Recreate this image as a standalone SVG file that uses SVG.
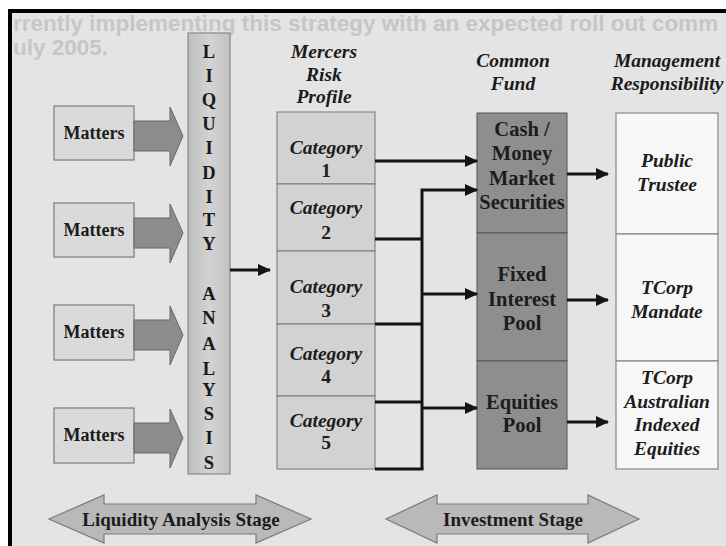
<svg xmlns="http://www.w3.org/2000/svg" width="726" height="546" viewBox="0 0 726 546">
  <style>
    .serif { font-family: "Liberation Serif", "Times New Roman", serif; font-weight: bold; }
    .ital { font-style: italic; }
    .hdr { font-size: 19.5px; fill: #1a1a1a; text-anchor: middle; }
    .bar { font-size: 18.5px; fill: #1a1a1a; text-anchor: middle; }
    .matter-box { fill: #dadada; stroke: #7c7c7c; stroke-width: 1.2; }
    .matter-txt { font-size: 18px; fill: #1c1c1c; text-anchor: middle; }
    .fat { fill: #8c8c8c; stroke: #666; stroke-width: 1; }
    .cat { fill: #d2d2d2; stroke: #777; stroke-width: 1; }
    .cat-txt { font-size: 19.5px; fill: #1c1c1c; text-anchor: middle; }
    .fund { fill: #8e8e8e; stroke: #555; stroke-width: 1; }
    .fund-txt { font-size: 20.5px; fill: #1c1c1c; text-anchor: middle; }
    .mgmt { fill: #f7f7f7; stroke: #888; stroke-width: 1.2; }
    .mgmt-txt { font-size: 19.5px; fill: #1c1c1c; text-anchor: middle; }
    .wire { fill: none; stroke: #141414; stroke-width: 3; }
    .stage { fill: #b9b9b9; stroke: #7a7a7a; stroke-width: 1.2; }
    .stage-txt { font-size: 19px; fill: #1c1c1c; text-anchor: middle; }
    .ghost { font-family: "Liberation Sans", Arial, sans-serif; font-weight: bold; font-size: 22.5px; fill: #c6c6c6; }
  </style>
  <defs>
    <marker id="head" markerUnits="userSpaceOnUse" markerWidth="13" markerHeight="12" refX="12" refY="6" orient="auto">
      <path d="M0,0 L13,6 L0,12 Z" fill="#141414"/>
    </marker>
    <linearGradient id="barFill" x1="0" y1="0" x2="1" y2="0">
      <stop offset="0" stop-color="#bdbdbd"/>
      <stop offset="0.5" stop-color="#d3d3d3"/>
      <stop offset="1" stop-color="#c2c2c2"/>
    </linearGradient>
  </defs>

  <!-- page -->
  <rect x="0" y="0" width="726" height="546" fill="#ffffff"/>
  <rect x="8" y="9" width="718" height="537" fill="#e4e4e4"/>

  <!-- faint running text behind the figure -->
  <text class="ghost" x="13" y="31">rrently implementing this strategy with an expected roll out comm</text>
  <text class="ghost" x="13" y="55">uly 2005.</text>

  <!-- frame -->
  <rect x="8" y="9" width="718" height="4" fill="#000"/>
  <rect x="8" y="9" width="4" height="537" fill="#000"/>

  <!-- column headings -->
  <g id="headings" class="serif ital">
    <text class="hdr" x="324" y="58">Mercers</text>
    <text class="hdr" x="324" y="81">Risk</text>
    <text class="hdr" x="324" y="103">Profile</text>
    <text class="hdr" x="513" y="67">Common</text>
    <text class="hdr" x="513" y="90">Fund</text>
    <text class="hdr" x="667" y="67">Management</text>
    <text class="hdr" x="667" y="90">Responsibility</text>
  </g>

  <!-- matters -->
  <g id="matters-1">
    <rect class="matter-box" x="54" y="106" width="80" height="54"/>
    <text class="serif matter-txt" x="94" y="139">Matters</text>
    <path class="fat" d="M134,121 L170,121 L170,107 L183,136 L170,166 L170,151 L134,151 Z"/>
  </g>
  <g id="matters-2">
    <rect class="matter-box" x="54" y="203" width="80" height="54"/>
    <text class="serif matter-txt" x="94" y="236">Matters</text>
    <path class="fat" d="M134,218 L170,218 L170,204 L183,233 L170,263 L170,248 L134,248 Z"/>
  </g>
  <g id="matters-3">
    <rect class="matter-box" x="54" y="305" width="80" height="55"/>
    <text class="serif matter-txt" x="94" y="338">Matters</text>
    <path class="fat" d="M134,320 L170,320 L170,306 L183,335 L170,365 L170,350 L134,350 Z"/>
  </g>
  <g id="matters-4">
    <rect class="matter-box" x="54" y="408" width="80" height="55"/>
    <text class="serif matter-txt" x="94" y="441">Matters</text>
    <path class="fat" d="M134,423 L170,423 L170,409 L183,438 L170,468 L170,453 L134,453 Z"/>
  </g>

  <!-- liquidity analysis bar -->
  <g id="liquidity-analysis" class="serif bar">
    <rect x="188" y="33" width="42" height="441" fill="url(#barFill)" stroke="#8a8a8a" stroke-width="1.2"/>
    <text x="209" y="58">L</text>
    <text x="209" y="82">I</text>
    <text x="209" y="106">Q</text>
    <text x="209" y="130">U</text>
    <text x="209" y="154">I</text>
    <text x="209" y="179">D</text>
    <text x="209" y="203">I</text>
    <text x="209" y="226">T</text>
    <text x="209" y="250">Y</text>
    <text x="209" y="300">A</text>
    <text x="209" y="324">N</text>
    <text x="209" y="350">A</text>
    <text x="209" y="375">L</text>
    <text x="209" y="396">Y</text>
    <text x="209" y="420">S</text>
    <text x="209" y="444">I</text>
    <text x="209" y="469">S</text>
  </g>

  <!-- risk categories -->
  <g id="category-1">
    <rect class="cat" x="277" y="112" width="98" height="72"/>
    <text class="serif ital cat-txt" x="326" y="154">Category</text>
    <text class="serif cat-txt" x="326" y="177">1</text>
  </g>
  <g id="category-2">
    <rect class="cat" x="277" y="184" width="98" height="67"/>
    <text class="serif ital cat-txt" x="326" y="214">Category</text>
    <text class="serif cat-txt" x="326" y="239">2</text>
  </g>
  <g id="category-3">
    <rect class="cat" x="277" y="251" width="98" height="73"/>
    <text class="serif ital cat-txt" x="326" y="293">Category</text>
    <text class="serif cat-txt" x="326" y="317">3</text>
  </g>
  <g id="category-4">
    <rect class="cat" x="277" y="324" width="98" height="72"/>
    <text class="serif ital cat-txt" x="326" y="360">Category</text>
    <text class="serif cat-txt" x="326" y="383">4</text>
  </g>
  <g id="category-5">
    <rect class="cat" x="277" y="396" width="98" height="73"/>
    <text class="serif ital cat-txt" x="326" y="427">Category</text>
    <text class="serif cat-txt" x="326" y="449">5</text>
  </g>

  <!-- common fund pools -->
  <g id="cash-money-market">
    <rect class="fund" x="477" y="113" width="90" height="120"/>
    <text class="serif fund-txt" x="522" y="136">Cash /</text>
    <text class="serif fund-txt" x="522" y="160">Money</text>
    <text class="serif fund-txt" x="522" y="185">Market</text>
    <text class="serif fund-txt" x="522" y="209">Securities</text>
  </g>
  <g id="fixed-interest-pool">
    <rect class="fund" x="477" y="233" width="90" height="128"/>
    <text class="serif fund-txt" x="522" y="281">Fixed</text>
    <text class="serif fund-txt" x="522" y="306">Interest</text>
    <text class="serif fund-txt" x="522" y="330">Pool</text>
  </g>
  <g id="equities-pool">
    <rect class="fund" x="477" y="361" width="90" height="108"/>
    <text class="serif fund-txt" x="522" y="409">Equities</text>
    <text class="serif fund-txt" x="522" y="432">Pool</text>
  </g>

  <!-- managers -->
  <g id="public-trustee">
    <rect class="mgmt" x="616" y="113" width="102" height="121"/>
    <text class="serif ital mgmt-txt" x="667" y="167">Public</text>
    <text class="serif ital mgmt-txt" x="667" y="191">Trustee</text>
  </g>
  <g id="tcorp-mandate">
    <rect class="mgmt" x="616" y="234" width="102" height="127"/>
    <text class="serif ital mgmt-txt" x="667" y="294">TCorp</text>
    <text class="serif ital mgmt-txt" x="667" y="318">Mandate</text>
  </g>
  <g id="tcorp-indexed-equities">
    <rect class="mgmt" x="616" y="361" width="102" height="108"/>
    <text class="serif ital mgmt-txt" x="667" y="384">TCorp</text>
    <text class="serif ital mgmt-txt" x="667" y="408">Australian</text>
    <text class="serif ital mgmt-txt" x="667" y="431">Indexed</text>
    <text class="serif ital mgmt-txt" x="667" y="455">Equities</text>
  </g>

  <!-- connectors -->
  <g id="connectors">
    <path class="wire" d="M230,270 H270" marker-end="url(#head)"/>
    <path class="wire" d="M375,161 H477" marker-end="url(#head)"/>
    <path class="wire" d="M422,469 V190 H477" marker-end="url(#head)"/>
    <path class="wire" d="M375,239 H422"/>
    <path class="wire" d="M375,324 H422"/>
    <path class="wire" d="M375,402 H422"/>
    <path class="wire" d="M375,469 H423.5"/>
    <path class="wire" d="M422,294 H477" marker-end="url(#head)"/>
    <path class="wire" d="M422,408 H477" marker-end="url(#head)"/>
    <path class="wire" d="M567,174 H608" marker-end="url(#head)"/>
    <path class="wire" d="M567,300 H608" marker-end="url(#head)"/>
    <path class="wire" d="M567,422 H608" marker-end="url(#head)"/>
  </g>

  <!-- stage arrows -->
  <g id="liquidity-analysis-stage">
    <path class="stage" d="M49,519 L104,495 L104,504 L256,504 L256,495 L311,519 L256,543 L256,534 L104,534 L104,543 Z"/>
    <text class="serif stage-txt" x="181" y="526">Liquidity Analysis Stage</text>
  </g>
  <g id="investment-stage">
    <path class="stage" d="M386,519 L437,495 L437,504 L588,504 L588,495 L639,519 L588,543 L588,534 L437,534 L437,543 Z"/>
    <text class="serif stage-txt" x="513" y="526">Investment Stage</text>
  </g>
</svg>
